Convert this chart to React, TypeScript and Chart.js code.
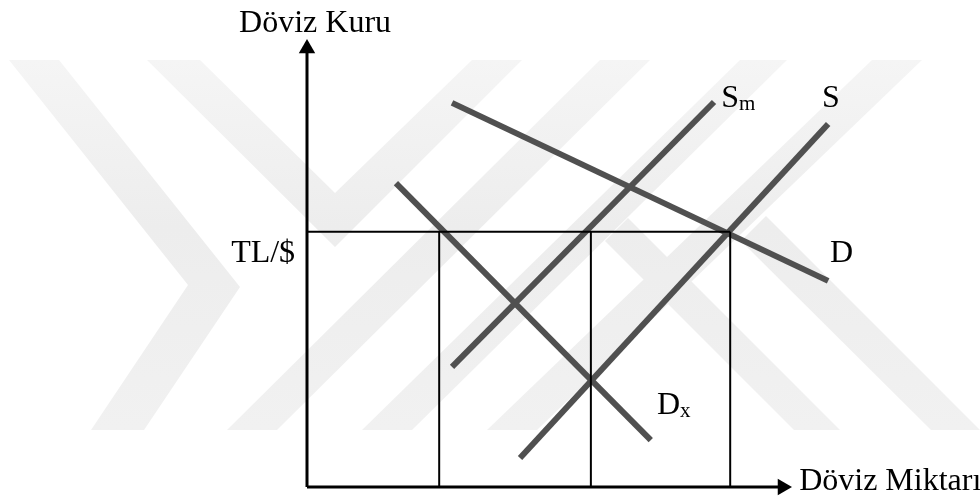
import React, { useEffect, useRef } from 'react';
import { Chart, registerables } from 'chart.js';

Chart.register(...registerables);

// ---- data (diagram units) ----
const axisMax = 100;
const rateLevel = 58.2; // TL/$ level
const quantityMarks = [27.8, 59.7, 89.0];

const demandX = [30.5, 109.6];
const demandY = [87.6, 47.0];
const supplyMX = [30.5, 85.6];
const supplyMY = [27.4, 87.8];
const supplyX = [44.8, 109.6];
const supplyY = [6.6, 82.8];
const demandXX = [18.7, 72.3];
const demandXY = [69.3, 10.7];

const yTitle = 'Döviz Kuru';
const xTitle = 'Döviz Miktarı';
const rateLabel = 'TL/$';

// curve labels: text, subscript
const curveNames = ['D', 'S', 'S', 'D'];
const curveSubs = ['', '', 'm', 'x'];
const curveLabelX = [110.0, 108.3, 87.1, 73.6];
const curveLabelY = [51.3, 86.7, 86.7, 16.6];

// ---- styles ----
const W = 980;
const H = 502;
const FONT = "'Liberation Serif', 'Times New Roman', serif";
const CURVE_COLOR = '#505050';

// watermark polygons (canvas pixels, decorative background)
const watermark: number[][][] = [
  [[9, 60], [59, 60], [240, 287], [144, 430], [91, 430], [188, 285]],
  [[147, 60], [200, 60], [335, 193], [472, 60], [522, 60], [335, 247]],
  [[600, 60], [650, 60], [277, 430], [227, 430]],
  [[740, 60], [787, 60], [412, 430], [362, 430]],
  [[872, 60], [922, 60], [537, 430], [487, 430]],
  [[794, 430], [840, 430], [628, 218], [605, 241]],
  [[931, 430], [980, 430], [766, 216], [741, 241]],
];

const pts = (xs: number[], ys: number[]) => xs.map((x, i) => ({ x, y: ys[i] }));

const curve = (label: string, xs: number[], ys: number[]) => ({
  label,
  data: pts(xs, ys),
  showLine: true,
  borderColor: CURVE_COLOR,
  borderWidth: 6,
  borderCapStyle: 'butt' as const,
  pointRadius: 0,
  clip: false as const,
});

const guide = (label: string, xs: number[], ys: number[]) => ({
  label,
  data: pts(xs, ys),
  showLine: true,
  borderColor: '#000',
  borderWidth: 2,
  pointRadius: 0,
  clip: false as const,
});

const watermarkPlugin = {
  id: 'watermark',
  beforeDraw(chart: any) {
    const ctx = chart.ctx;
    ctx.save();
    const g = ctx.createLinearGradient(0, 60, 0, 430);
    g.addColorStop(0, '#f5f5f5');
    g.addColorStop(0.45, '#ededed');
    g.addColorStop(1, '#f1f1f1');
    ctx.fillStyle = g;
    for (const poly of watermark) {
      ctx.beginPath();
      poly.forEach(([x, y], i) => (i === 0 ? ctx.moveTo(x, y) : ctx.lineTo(x, y)));
      ctx.closePath();
      ctx.fill();
    }
    ctx.restore();
  },
};

const labelPlugin = {
  id: 'labels',
  afterDatasetsDraw(chart: any) {
    const ctx = chart.ctx;
    const xs = chart.scales.x;
    const ys = chart.scales.y;
    const px = (v: number) => xs.getPixelForValue(v);
    const py = (v: number) => ys.getPixelForValue(v);
    ctx.save();
    ctx.fillStyle = '#000';
    ctx.textBaseline = 'alphabetic';
    ctx.font = `32px ${FONT}`;

    ctx.textAlign = 'center';
    ctx.fillText(yTitle, px(1.7), py(103.8));

    ctx.textAlign = 'left';
    ctx.fillText(xTitle, px(103.5), py(-0.7));

    ctx.textAlign = 'right';
    ctx.fillText(rateLabel, px(-2.5), py(51.3));

    ctx.textAlign = 'left';
    curveNames.forEach((name, i) => {
      const x = px(curveLabelX[i]);
      const y = py(curveLabelY[i]);
      ctx.font = `32px ${FONT}`;
      ctx.fillText(name, x, y);
      if (curveSubs[i]) {
        const w = ctx.measureText(name).width;
        ctx.font = `21px ${FONT}`;
        ctx.fillText(curveSubs[i], x + w, y + 3);
      }
    });
    ctx.restore();
  },
};

export default function App() {
  const ref = useRef<HTMLCanvasElement | null>(null);

  useEffect(() => {
    if (!ref.current) return;
    const datasets: any[] = [
      // axes with arrowheads
      {
        label: 'yAxis',
        data: [{ x: 0, y: 0 }, { x: 0, y: axisMax }],
        showLine: true,
        borderColor: '#000',
        borderWidth: 3,
        pointRadius: [0, 9.5],
        pointStyle: 'triangle',
        pointRotation: 0,
        pointBackgroundColor: '#000',
        pointBorderColor: '#000',
        pointBorderWidth: 0,
        clip: false,
      },
      {
        label: 'xAxis',
        data: [{ x: 0, y: 0 }, { x: axisMax, y: 0 }],
        showLine: true,
        borderColor: '#000',
        borderWidth: 3,
        pointRadius: [0, 9.5],
        pointStyle: 'triangle',
        pointRotation: 90,
        pointBackgroundColor: '#000',
        pointBorderColor: '#000',
        pointBorderWidth: 0,
        clip: false,
      },
      guide('rate', [0, quantityMarks[2]], [rateLevel, rateLevel]),
      ...quantityMarks.map((q, i) => guide('q' + i, [q, q], [0, rateLevel])),
      curve('D', demandX, demandY),
      curve('Sm', supplyMX, supplyMY),
      curve('S', supplyX, supplyY),
      curve('Dx', demandXX, demandXY),
    ];

    const chart = new Chart(ref.current, {
      type: 'scatter',
      data: { datasets },
      options: {
        animation: false,
        responsive: false,
        devicePixelRatio: 1,
        layout: { padding: { left: 307, right: W - 782.5, top: 48.5, bottom: H - 487 } },
        scales: {
          x: { type: 'linear', min: 0, max: axisMax, display: false },
          y: { type: 'linear', min: 0, max: axisMax, display: false },
        },
        plugins: {
          legend: { display: false },
          tooltip: { enabled: false },
        },
      },
      plugins: [watermarkPlugin, labelPlugin],
    });
    return () => chart.destroy();
  }, []);

  return (
    <div style={{ position: 'absolute', left: 0, top: 0, width: W, height: H, background: '#fff' }}>
      <canvas ref={ref} width={W} height={H} style={{ width: W, height: H }} />
    </div>
  );
}
